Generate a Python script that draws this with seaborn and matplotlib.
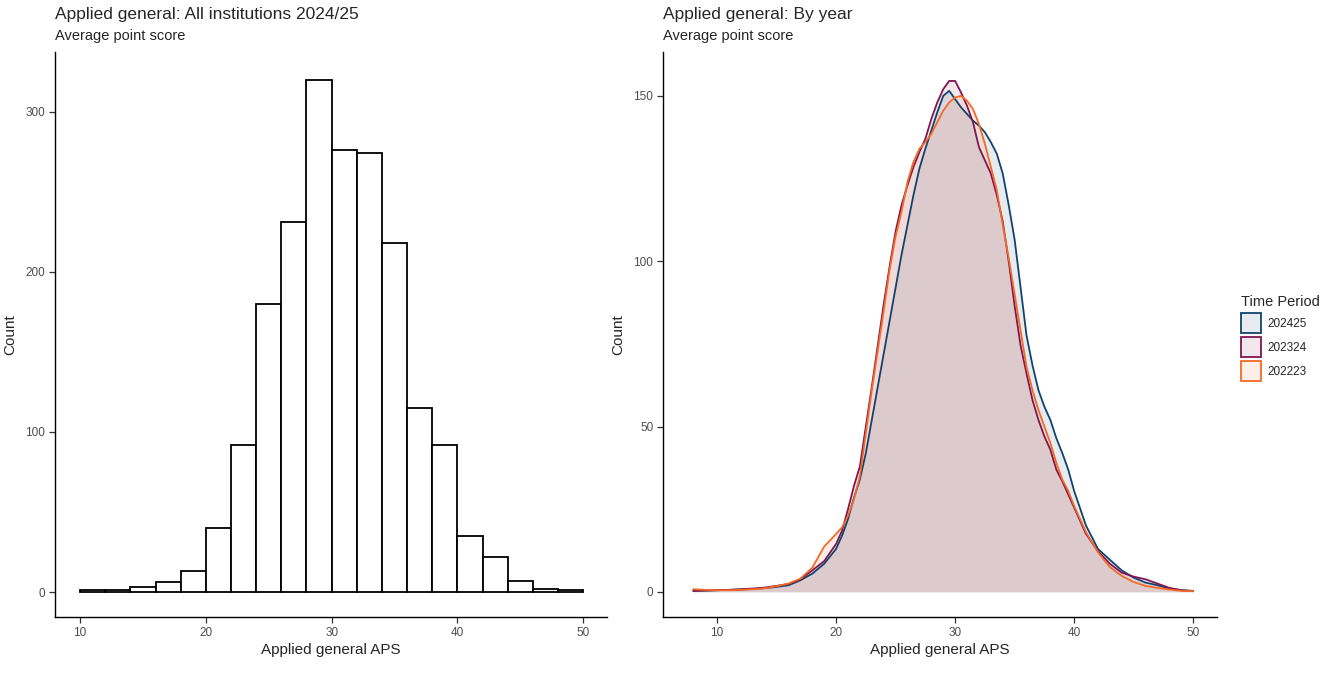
import numpy as np
import pandas as pd
import seaborn as sns
import matplotlib.pyplot as plt
from matplotlib.colors import to_rgb
from matplotlib.patches import Patch

# left panel: histogram counts, bins of width 2 from 10 to 50
bin_left = [10, 12, 14, 16, 18, 20, 22, 24, 26, 28, 30, 32, 34, 36, 38, 40, 42, 44, 46, 48]
bin_counts = [1, 1, 3, 6, 13, 40, 92, 180, 231, 320, 276, 274, 218, 115, 92, 35, 22, 7, 2, 1]

# right panel: count-scaled density curves
aps_x = ([8, 9, 10, 11, 12, 13, 14, 15, 16, 17, 18, 19]
         + [20, 20.5, 21, 21.5, 22, 22.5, 23, 23.5, 24, 24.5, 25, 25.5, 26, 26.5,
            27, 27.5, 28, 28.5, 29, 29.5, 30, 30.5, 31, 31.5, 32, 32.5, 33, 33.5,
            34, 34.5, 35, 35.5, 36, 36.5, 37, 37.5, 38, 38.5, 39, 39.5, 40]
         + [41, 42, 43, 44, 45, 46, 47, 48, 49, 50])

count_202425 = ([0.3, 0.4, 0.5, 0.6, 0.7, 0.9, 1.1, 1.5, 2.0, 3.5, 5.5, 8.5]
                + [13, 17, 22, 28.5, 34, 42, 52, 62, 72, 82, 92, 102, 111, 120,
                   128, 134, 139.5, 145, 150, 151.5, 149, 146.5, 144.5, 142.5, 141, 139, 136, 132.5,
                   126.5, 117, 106.5, 92, 77.5, 68.5, 61, 56, 52, 46.5, 42, 37, 30.5]
                + [20, 13, 9.7, 6.5, 4.3, 2.8, 2.0, 1.0, 0.5, 0.3])

count_202324 = ([0.3, 0.4, 0.5, 0.6, 0.8, 1.0, 1.3, 1.8, 2.4, 3.8, 6.5, 9.3]
                + [14.5, 18.5, 25, 32, 38, 50, 62, 74.5, 87, 98.5, 109, 117, 123, 128.5,
                   133, 137, 143, 148, 152, 154.5, 154.5, 151, 147, 142, 134.5, 130.5, 126.5, 120,
                   112, 100, 86.5, 74.5, 66, 58, 52, 47, 43, 37, 33.5, 29.5, 25.5]
                + [17.5, 12.3, 8.5, 5.8, 4.6, 3.8, 2.5, 1.2, 0.5, 0.2])

count_202223 = ([0.8, 0.6, 0.5, 0.5, 0.6, 0.8, 1.1, 1.7, 2.5, 4.0, 7.3, 13.7]
                + [17.5, 19.5, 23, 28, 35, 48, 61, 73, 85, 97.5, 107.5, 115, 124, 130,
                   134, 136, 138.5, 142, 145.5, 148, 149.5, 150, 148.5, 146, 141.5, 135.5, 128.5, 121.5,
                   111, 101, 90, 79, 68, 61, 55, 50, 45, 39, 34, 30.5, 26]
                + [18, 12, 7.5, 4.8, 3.0, 1.8, 1.2, 0.7, 0.3, 0.2])

periods = ['202425', '202324', '202223']
period_colours = ['#12436D', '#801650', '#F46A25']

sns.set_theme(style='ticks')
plt.rcParams['font.family'] = ['Liberation Sans', 'DejaVu Sans']

fig = plt.figure(figsize=(13.4, 6.76), dpi=100)
ax1 = fig.add_axes([0.041, 0.0873, 0.412, 0.836])
ax2 = fig.add_axes([0.4948, 0.0873, 0.4134, 0.836])

# histogram
hist_df = pd.DataFrame({'aps': np.array(bin_left) + 1.0, 'n': bin_counts})
sns.histplot(data=hist_df, x='aps', weights='n', binwidth=2, binrange=(10, 50),
             color='white', edgecolor='black', linewidth=1.3, alpha=1, ax=ax1)
ax1.set_xlim(8.0, 51.9)
ax1.set_ylim(-15.6, 337.5)
ax1.set_xticks([10, 20, 30, 40, 50])
ax1.set_yticks([0, 100, 200, 300])

# density-style curves
dens_df = pd.concat([
    pd.DataFrame({'aps': aps_x, 'count': vals, 'Time Period': p})
    for p, vals in zip(periods, [count_202425, count_202324, count_202223])
])
for p, c in zip(periods, period_colours):
    sub = dens_df[dens_df['Time Period'] == p]
    ax2.fill_between(sub['aps'], sub['count'], color=c, alpha=0.1, linewidth=0)
sns.lineplot(data=dens_df, x='aps', y='count', hue='Time Period',
             palette=dict(zip(periods, period_colours)), linewidth=1.3,
             legend=False, ax=ax2)
ax2.set_xlim(5.46, 52.0)
ax2.set_ylim(-7.6, 163.3)
ax2.set_xticks([10, 20, 30, 40, 50])
ax2.set_yticks([0, 50, 100, 150])

for ax, title in [(ax1, 'Applied general: All institutions 2024/25'),
                  (ax2, 'Applied general: By year')]:
    sns.despine(ax=ax)
    for side in ['left', 'bottom']:
        ax.spines[side].set_linewidth(1.0)
        ax.spines[side].set_color('black')
    ax.tick_params(axis='both', labelsize=8.5, labelcolor='#4d4d4d',
                   length=4, width=0.9, color='#333333', pad=3)
    ax.set_xlabel('Applied general APS', fontsize=11, labelpad=3)
    ax.set_ylabel('Count', fontsize=11, labelpad=6)
    ax.grid(False)
    ax.text(0, 1.0584, title, transform=ax.transAxes, fontsize=12.5, ha='left', va='baseline')
    ax.text(0, 1.0212, 'Average point score', transform=ax.transAxes, fontsize=10.5,
            ha='left', va='baseline')

handles = [Patch(facecolor=(*to_rgb(c), 0.1), edgecolor=c, linewidth=1.3) for c in period_colours]
leg = fig.legend(handles, periods, title='Time Period', loc='center left',
                 bbox_to_anchor=(0.918, 0.5), frameon=False, fontsize=8.5,
                 title_fontsize=10.5, handlelength=1.7, handleheight=2.2,
                 handletextpad=0.6, labelspacing=0.35)
leg._legend_box.align = 'left'

fig.savefig('out.png', dpi=100)
